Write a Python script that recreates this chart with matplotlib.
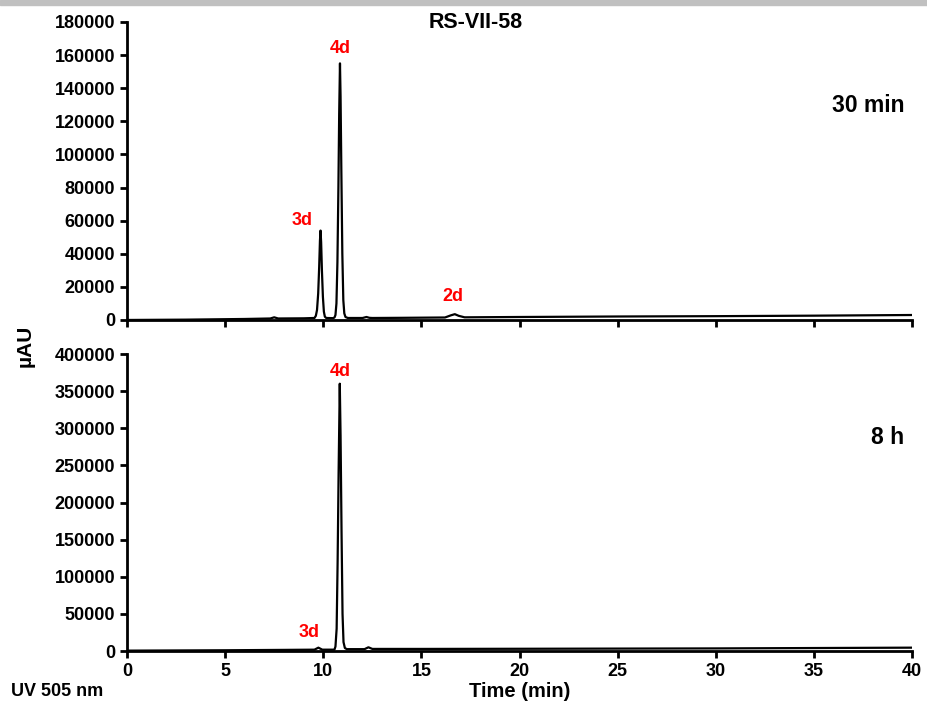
import matplotlib
matplotlib.use('Agg')
import matplotlib.pyplot as plt
from matplotlib.patches import Rectangle

plt.rcParams['font.family'] = ['Liberation Sans', 'DejaVu Sans']
plt.rcParams['font.weight'] = 'bold'

# trace (time in min, signal in uAU)
t_30min = [0, 3, 6, 7.3, 7.5, 7.7, 9.0, 9.55, 9.62, 9.68, 9.74, 9.79, 9.83, 9.86, 9.89, 9.93, 9.98,
           10.03, 10.08, 10.15, 10.5, 10.57, 10.62, 10.67, 10.72, 10.77, 10.81, 10.85, 10.88, 10.92,
           10.97, 11.02, 11.07, 11.13, 11.25, 12.0, 12.2, 12.35, 12.5, 14, 16.2, 16.5, 16.7, 16.9,
           17.2, 20, 25, 30, 35, 40]
y_30min = [0, 200, 600, 900, 1600, 900, 1000, 1200, 2500, 6000, 16000, 32000, 48000, 54000, 47000, 30000, 14000,
           5000, 2000, 1200, 1100, 1500, 3000, 10000, 35000, 80000, 125000, 155000, 135000, 90000,
           40000, 12000, 4000, 1800, 1200, 1200, 1800, 1300, 1200, 1300, 1500, 2800, 3500, 2500,
           1600, 1800, 2100, 2300, 2600, 3000]

# trace
t_8h = [0, 5, 8, 9.55, 9.75, 9.95, 10.5, 10.57, 10.62, 10.68, 10.73, 10.78, 10.84, 10.88, 10.93, 10.98,
        11.03, 11.1, 11.2, 12.1, 12.3, 12.5, 15, 20, 30, 40]
y_8h = [500, 1000, 1500, 1800, 4500, 1800, 1800, 2000, 6000, 30000, 120000, 240000, 360000, 290000, 160000, 50000,
        12000, 4000, 2500, 2500, 5000, 2800, 2800, 3000, 3500, 4500]

# peak labels: (name, time, signal)
labels_30min = [('3d', 8.9, 55000), ('4d', 10.85, 159000), ('2d', 16.6, 9000)]
labels_8h = [('3d', 9.3, 13500), ('4d', 10.85, 365000)]

fig = plt.figure(figsize=(9.27, 7.09), dpi=100)
fig.patches.append(Rectangle((0, 1 - 5 / 709), 1, 5 / 709, transform=fig.transFigure,
                             color='#c0c0c0', zorder=0))

ax1 = fig.add_axes([0.137, 0.5487, 0.847, 0.4203])
ax2 = fig.add_axes([0.137, 0.0818, 0.847, 0.4189])

for ax, t, y, labs, ymax, step in [(ax1, t_30min, y_30min, labels_30min, 180000, 20000),
                                   (ax2, t_8h, y_8h, labels_8h, 400000, 50000)]:
    ax.plot(t, y, color='black', lw=1.6)
    ax.set_xlim(0, 40)
    ax.set_ylim(0, ymax)
    ax.set_xticks(range(0, 41, 5))
    ax.set_yticks(range(0, ymax + 1, step))
    for s in ['top', 'right']:
        ax.spines[s].set_visible(False)
    for s in ['left', 'bottom']:
        ax.spines[s].set_linewidth(2)
    ax.tick_params(width=2, length=5, labelsize=13)
    for name, tx, ty in labs:
        ax.text(tx, ty, name, color='red', ha='center', va='bottom', fontsize=13, fontweight='bold')

ax1.set_xticklabels([])

ax1.text(0.99, 0.72, '30 min', transform=ax1.transAxes, ha='right', va='center', fontsize=16.5)
ax2.text(0.99, 0.72, '8 h', transform=ax2.transAxes, ha='right', va='center', fontsize=16.5)

fig.text(0.513, 0.968, 'RS-VII-58', ha='center', va='center', fontsize=15.5)
fig.text(0.027, 0.512, 'µAU', rotation=90, ha='center', va='center', fontsize=15)
fig.text(0.561, 0.024, 'Time (min)', ha='center', va='center', fontsize=14.5)
fig.text(0.062, 0.024, 'UV 505 nm', ha='center', va='center', fontsize=13)

fig.savefig('out.png', dpi=100)
